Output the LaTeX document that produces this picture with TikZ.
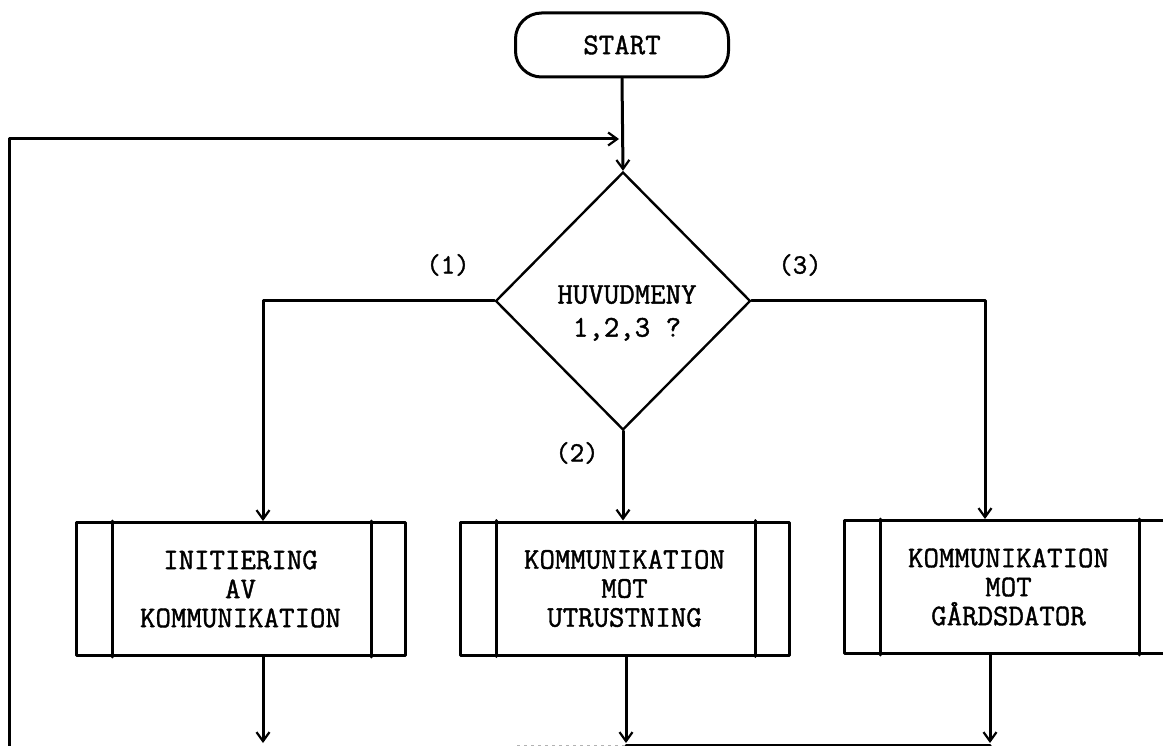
\documentclass[tikz,border=0pt]{standalone}
\usepackage{fontspec}
\newfontfamily\typewriter[FakeBold=1.3]{Latin Modern Mono}
\usetikzlibrary{arrows.meta,shapes.geometric,calc}
\begin{document}
\begin{tikzpicture}[x=1pt,y=-1pt,
  every node/.style={font=\typewriter\fontsize{30}{29}\selectfont},
  ink/.style={line width=3pt,line cap=round,line join=round},
  arr/.style={ink,-{Straight Barb[length=9pt,width=13pt,line width=2.2pt]}},
  subproc/.style={draw,ink,minimum width=329pt,minimum height=133pt,align=center,inner sep=0pt},
  term/.style={draw,ink,rounded corners=26pt,minimum width=213pt,minimum height=64pt},
  decision/.style={draw,line width=2.4pt,diamond,minimum width=255pt,minimum height=258pt,inner sep=0pt},
  branch/.style={font=\typewriter\fontsize{28}{28}\selectfont}]
\useasboundingbox (0,0) rectangle (1163,746);
\clip (0,0) rectangle (1163,746);

% terminal and decision
\node[term] (start) at (622,45) {START};
\node[decision] (menu) at (623,301) {};
\node[align=center] (menutext) at (627,313) {HUVUDMENY\\[4pt]1,2,3 ?};

% branch labels
\node[branch] (l1) at (448,265) {(1)};
\node[branch] (l2) at (577,453) {(2)};
\node[branch] (l3) at (800,265) {(3)};

% predefined processes
\node[subproc] (b1) at (240.5,589) {INITIERING\\AV\\KOMMUNIKATION};
\node[subproc] (b2) at (624.5,588.5) {KOMMUNIKATION\\MOT\\UTRUSTNING};
\node[subproc] (b3) at (1008.5,587) {KOMMUNIKATION\\MOT\\GÅRDSDATOR};
\foreach \b in {b1,b2,b3}{
  \draw[ink] ([xshift=38pt]\b.north west) -- ([xshift=38pt]\b.south west);
  \draw[ink] ([xshift=-35pt]\b.north east) -- ([xshift=-35pt]\b.south east);
}

% flow into the menu
\coordinate (loop) at (9,746);
\coordinate (merge) at (619,139);
\draw[arr] (start.south) -- (menu.north);
\draw[arr] (loop) |- (merge);

% menu branches
\draw[arr] (menu.west) -| ([xshift=22.5pt]b1.north);
\draw[arr] (menu.south) -- (menu.south |- b2.north);
\draw[arr] (menu.east) -| ([xshift=-23.5pt]b3.north);

% outgoing flow
\coordinate (o1) at (263,743);
\coordinate (o2) at (626,743);
\coordinate (o3) at (990,743);
\draw[arr] (o1 |- b1.south) -- (o1);
\draw[arr] (o2 |- b2.south) -- (o2);
\draw[arr] (o3 |- b3.south) -- (o3);
\coordinate (busL) at (517,745);
\draw[ink] (o2 |- busL) -- (o3 |- busL);
\draw[gray!60,line width=1pt,dash pattern=on 3pt off 4pt] (busL) -- (o2 |- busL);
\end{tikzpicture}
\end{document}
